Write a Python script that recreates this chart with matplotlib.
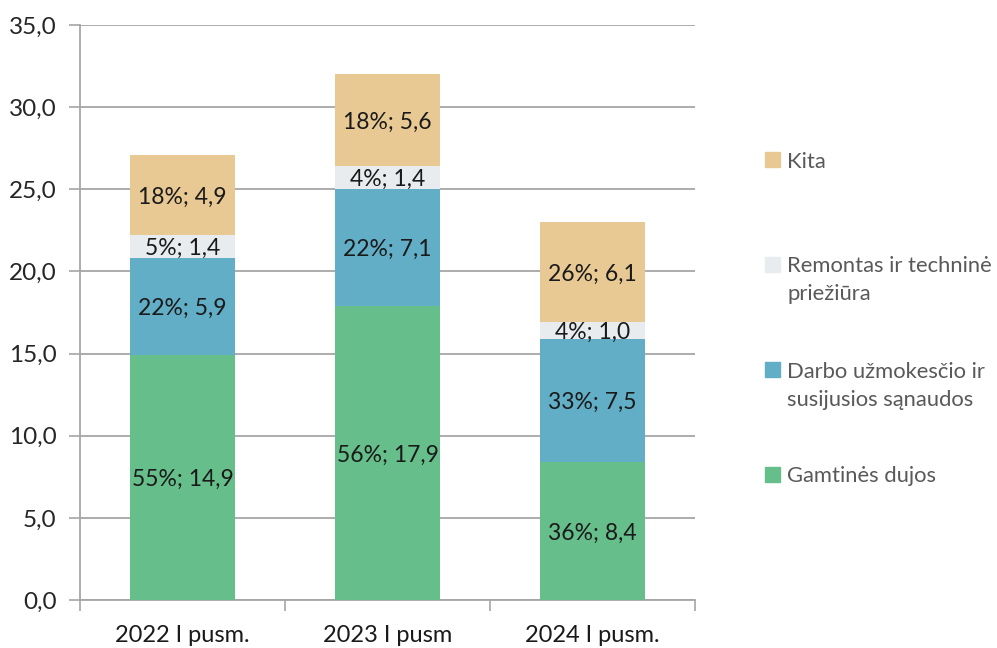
import matplotlib
matplotlib.use("Agg")
import matplotlib.pyplot as plt
from matplotlib.patches import Rectangle
from matplotlib.ticker import FuncFormatter, FixedLocator

plt.rcParams['font.family'] = ['Lato', 'DejaVu Sans']

# data
periods = ["2022 I pusm.", "2023 I pusm", "2024 I pusm."]
series = ["Gamtinės dujos", "Darbo užmokesčio ir\nsusijusios sąnaudos",
          "Remontas ir techninė\npriežiūra", "Kita"]
gas = [14.9, 17.9, 8.4]
wages = [5.9, 7.1, 7.5]
repair = [1.4, 1.4, 1.0]
other = [4.9, 5.6, 6.1]
gas_pct = [55, 56, 36]
wages_pct = [22, 22, 33]
repair_pct = [5, 4, 4]
other_pct = [18, 18, 26]

colors = ["#66BF8B", "#62AEC6", "#E9ECEE", "#E8C994"]
grid_col = "#A6A6A6"

fig = plt.figure(figsize=(9.97, 6.48), dpi=100)
ax = fig.add_axes([80/997, 1-600/648, 615/997, 575/648])

x = list(range(len(periods)))
values = [gas, wages, repair, other]
pcts = [gas_pct, wages_pct, repair_pct, other_pct]
bottom = [0.0] * len(periods)
for vals, pc, col in zip(values, pcts, colors):
    bars = ax.bar(x, vals, width=0.512, bottom=bottom, color=col, zorder=3)
    for i, b in enumerate(bars):
        cy = bottom[i] + vals[i] / 2
        lab = f"{pc[i]}%; " + f"{vals[i]:.1f}".replace(".", ",")
        ax.text(x[i], cy, lab, ha="center", va="center_baseline",
                fontsize=16.5, color="#1a1a1a", zorder=4)
    bottom = [bt + v for bt, v in zip(bottom, vals)]

ax.set_xlim(-0.5, 2.5)
ax.set_ylim(0, 35)
ax.set_yticks([0, 5, 10, 15, 20, 25, 30, 35])
ax.yaxis.set_major_formatter(FuncFormatter(lambda v, p: f"{v:.1f}".replace(".", ",")))
ax.grid(axis="y", color=grid_col, linewidth=1.3, zorder=1)
ax.set_axisbelow(True)

ax.set_xticks(x)
ax.set_xticklabels(periods)
ax.xaxis.set_minor_locator(FixedLocator([-0.5, 0.5, 1.5, 2.5]))
ax.tick_params(axis="x", which="major", length=0, pad=18, labelsize=17,
               labelcolor="#1a1a1a")
ax.tick_params(axis="x", which="minor", length=8, width=1.2, color=grid_col)
ax.tick_params(axis="y", length=8, width=1.2, color=grid_col, pad=9,
               labelsize=17.5, labelcolor="#262626")

for s in ["top", "right"]:
    ax.spines[s].set_visible(False)
for s in ["left", "bottom"]:
    ax.spines[s].set_color(grid_col)
    ax.spines[s].set_linewidth(1.3)

# legend drawn by hand, top entry = last series
W, H = 997, 648
square_y = [159.5, 264.5, 369.5, 474.5]
for k, (name, col) in enumerate(zip(series[::-1], colors[::-1])):
    cy = square_y[k]
    fig.add_artist(Rectangle((765/W, 1-(cy+7.5)/H), 15/W, 15/H,
                             transform=fig.transFigure, color=col))
    for j, line in enumerate(name.split("\n")):
        fig.text(787/W, 1-(cy+28*j)/H, line, ha="left",
                 va="center_baseline", fontsize=15.8, color="#595959")

fig.savefig("out.png", dpi=100)
